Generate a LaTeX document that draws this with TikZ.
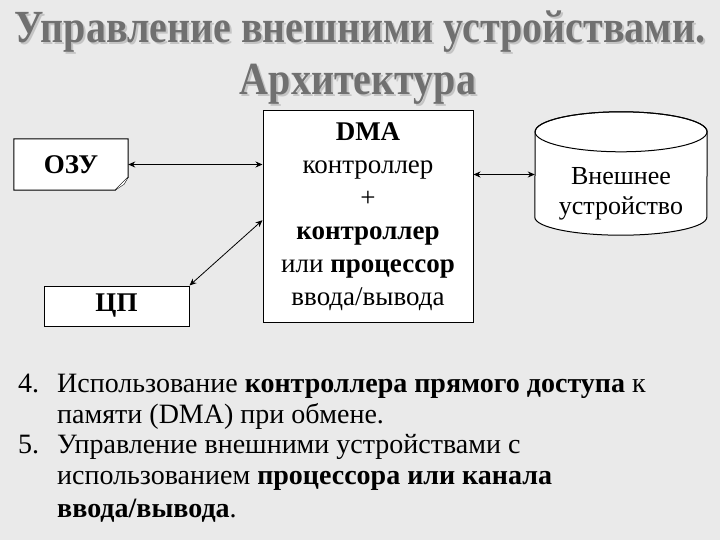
\documentclass[tikz,border=0pt]{standalone}
\usepackage{fontspec}
\setmainfont{LiberationSerif}[Extension=.ttf, UprightFont=*-Regular, BoldFont=*-Bold,
  ItalicFont=*-Italic, BoldItalicFont=*-BoldItalic]
\newfontfamily\titlefont{LiberationSerif}[Extension=.ttf, UprightFont=*-Regular, BoldFont=*-Bold,
  FakeStretch=0.87]
\usetikzlibrary{arrows.meta}
\definecolor{slidebg}{HTML}{EAEAEA}
\definecolor{titlegray}{HTML}{707070}
\definecolor{titleshade}{HTML}{C4C4C4}
\tikzset{
  box/.style={draw, fill=white, line width=1pt, inner sep=0pt},
  link/.style={{Stealth[length=7pt,width=6pt]}-{Stealth[length=7pt,width=6pt]}, line width=1pt},
  title/.style={font=\titlefont\bfseries\fontsize{46}{46}\selectfont, anchor=base, inner sep=0pt},
  item/.style={font=\fontsize{28}{28}\selectfont, anchor=base west, inner sep=0pt},
}

\begin{document}
\begin{tikzpicture}[x=1pt, y=-1pt]
    \fill[slidebg] (0,0) rectangle (720,540);
    \useasboundingbox (0,0) rectangle (720,540);

    % title
    \node[title, text=titleshade] (t1s) at (362,45) {Управление внешними устройствами.};
    \node[title, text=titlegray] (t1) at (360,43) {Управление внешними устройствами.};
    \node[title, text=titleshade] (t2s) at (360,97) {Архитектура};
    \node[title, text=titlegray] (t2) at (358,95) {Архитектура};

    % memory box with folded corner
    \node[inner sep=0pt, minimum width=114, minimum height=51] (ozu) at (71,164.5) {};
    \filldraw[fill=white, line width=1pt] (ozu.north west) -- (ozu.north east) -- ([yshift=13pt]ozu.south east)
        -- ([xshift=-13pt]ozu.south east) -- (ozu.south west) -- cycle;
    \draw[fill=white] ([yshift=13pt]ozu.south east) -- ([xshift=-4pt,yshift=6pt]ozu.south east)
        -- ([xshift=-13pt]ozu.south east);
    \node[font=\bfseries\fontsize{27}{27}\selectfont] (ozulabel) at (ozu) {ОЗУ};

    % processor
    \node[box, minimum width=145, minimum height=40, font=\bfseries\fontsize{27}{27}\selectfont] (cpu) at (116.5,306) {ЦП};

    % DMA controller
    \node[box, minimum width=210, minimum height=211, align=center,
          font=\fontsize{27}{33}\selectfont] (dma) at (368,216.5)
        {\textbf{DMA}\\контроллер\\+\\\textbf{контроллер}\\или \textbf{процессор}\\ввода/вывода};

    % external device
    \node[inner sep=0pt, minimum width=172, minimum height=85] (ext) at (621,174.5) {};
    \filldraw[fill=white, line width=1pt] (ext.south west)
        arc[start angle=180, end angle=360, x radius=86pt, y radius=18pt]
        -- (ext.north east) arc[start angle=0, end angle=180, x radius=86pt, y radius=20pt] -- cycle;
    \draw[line width=1pt] (ext.north) ellipse [x radius=86pt, y radius=20pt];
    \node[align=center, font=\fontsize{26}{30}\selectfont] (extlabel) at (621,194) {Внешнее\\устройство};

    % connections
    \draw[link] (ozu.east) -- (ozu.east -| dma.west);
    \draw[link, line width=0.8pt] (cpu.north east) -- (dma.182);
    \draw[link, line width=0.8pt] (ext.west -| dma.east) -- (ext.west);

    % list
    \node[item] (n4) at (18,392) {4.};
    \node[item] (l1) at (57,392) {Использование \textbf{контроллера прямого доступа} к};
    \node[item] (l2) at (57,423) {памяти (DMA) при обмене.};
    \node[item] (n5) at (18,453) {5.};
    \node[item] (l3) at (57,453) {Управление внешними устройствами с};
    \node[item] (l4) at (57,484) {использованием \textbf{процессора или канала}};
    \node[item] (l5) at (57,517) {\textbf{ввода/вывода}.};
\end{tikzpicture}
\end{document}
